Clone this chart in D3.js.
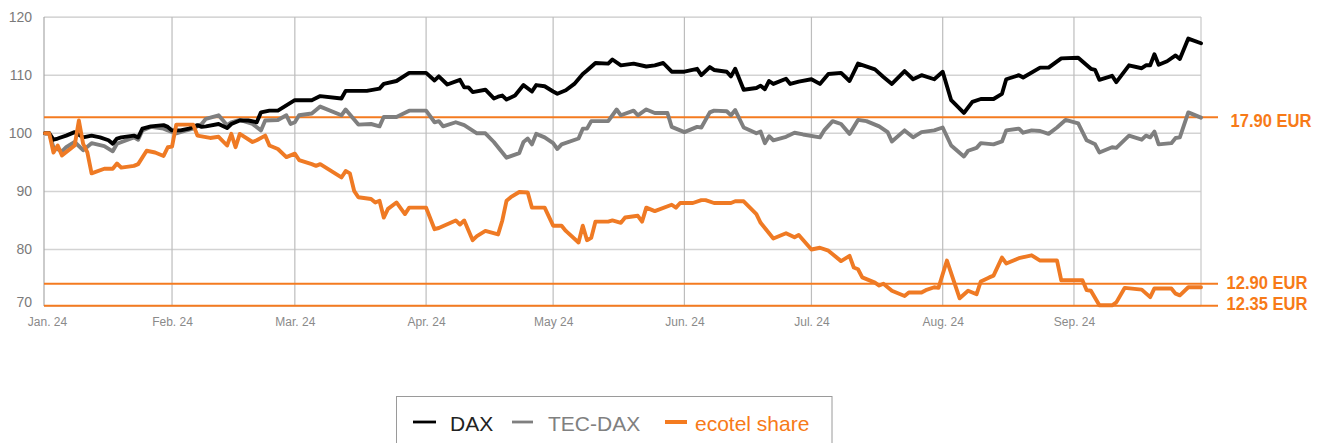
<!DOCTYPE html>
<html>
<head>
<meta charset="utf-8">
<script src="https://cdn.jsdelivr.net/npm/d3@7"></script>
<style>
  html, body { margin: 0; padding: 0; background: #fff; }
  svg { display: block; font-family: "Liberation Sans", Arial, sans-serif; }
</style>
</head>
<body>
<svg id="chart" width="1325" height="443"></svg>
<script>
// ---------------- DATA ----------------
const monthTicks = ["01-02","02-01","03-01","04-01","05-01","06-01","07-01","08-01","09-01"];
const monthLabels = ["Jan. 24","Feb. 24","Mar. 24","Apr. 24","May 24","Jun. 24","Jul. 24","Aug. 24","Sep. 24"];
const yTicks = [70, 80, 90, 100, 110, 120];

const daxData = [
["01-02",100],["01-03",100],["01-04",98.9],["01-05",99.1],["01-07",99.6],["01-09",100.2],["01-11",99.3],["01-13",99.6],
["01-15",99.3],["01-17",98.8],["01-18",98.2],["01-19",99.1],["01-20",99.3],["01-23",99.6],["01-24",99.3],["01-25",100.8],
["01-27",101.2],["01-30",101.4],["01-31",101.1],["02-01",100.5],["02-03",100.5],["02-05",100.8],["02-07",101.4],["02-08",101.1],
["02-09",101.2],["02-12",101.6],["02-14",100.9],["02-15",101.6],["02-17",102.2],["02-19",102.2],["02-21",101.9],["02-22",103.6],
["02-24",103.9],["02-26",103.9],["02-28",104.8],["03-01",105.7],["03-05",105.7],["03-07",106.4],["03-12",106.0],["03-13",107.3],
["03-18",107.3],["03-21",107.7],["03-22",108.5],["03-25",109.0],["03-28",110.4],["04-01",110.4],["04-03",109.1],["04-04",109.8],
["04-06",108.4],["04-09",109.2],["04-10",107.9],["04-11",107.9],["04-12",107.1],["04-15",107.5],["04-17",106.0],["04-18",106.3],
["04-19",106.5],["04-20",105.8],["04-22",106.5],["04-24",108.3],["04-26",107.2],["04-27",108.3],["04-29",108.1],["05-01",107.2],
["05-02",106.8],["05-04",107.4],["05-06",108.5],["05-08",110.2],["05-09",110.8],["05-11",112.1],["05-14",112.0],["05-15",112.7],
["05-17",111.7],["05-20",112.0],["05-23",111.5],["05-25",111.7],["05-27",112.1],["05-29",110.6],["06-01",110.6],["06-04",111.1],
["06-05",110.0],["06-07",111.4],["06-08",110.9],["06-11",110.6],["06-12",109.8],["06-13",111.1],["06-15",107.5],["06-18",107.8],
["06-19",108.2],["06-20",107.6],["06-21",109.0],["06-22",108.5],["06-25",109.4],["06-26",108.5],["06-28",108.9],["07-01",109.3],
["07-03",108.5],["07-05",110.2],["07-08",110.4],["07-10",109.0],["07-12",112.0],["07-16",111.0],["07-18",109.7],["07-20",108.5],
["07-23",110.7],["07-25",109.3],["07-27",110.0],["07-30",109.3],["08-01",110.6],["08-03",105.7],["08-06",103.5],["08-08",105.4],
["08-10",105.9],["08-13",105.9],["08-15",106.8],["08-16",109.3],["08-19",110.0],["08-20",109.6],["08-24",111.3],["08-26",111.3],
["08-29",112.9],["09-02",113.0],["09-05",111.1],["09-06",110.9],["09-07",109.2],["09-10",109.9],["09-11",108.8],["09-14",111.7],
["09-17",111.2],["09-18",111.7],["09-19",111.7],["09-20",113.6],["09-21",111.8],["09-23",112.4],["09-25",113.4],["09-26",112.8],
["09-28",116.3],["10-01",115.5]
];

const tecData = [
["01-02",100],["01-03",100],["01-04",97.6],["01-06",96.9],["01-07",97.6],["01-09",98.5],["01-11",97.1],["01-13",98.3],
["01-16",97.8],["01-18",96.9],["01-19",98.2],["01-23",99.3],["01-24",98.9],["01-25",100.5],["01-27",101.1],["01-30",100.8],
["01-31",100.5],["02-02",100.0],["02-04",100.4],["02-06",100.8],["02-08",101.6],["02-09",102.5],["02-12",103.1],["02-14",101.4],
["02-15",101.9],["02-17",102.3],["02-20",101.6],["02-22",100.5],["02-23",102.2],["02-26",102.3],["02-28",103.1],["02-29",101.6],
["03-01",101.9],["03-02",103.1],["03-05",103.4],["03-07",104.6],["03-12",103.1],["03-13",104.1],["03-16",101.5],["03-19",101.6],
["03-21",101.2],["03-22",102.8],["03-25",102.8],["03-28",103.9],["04-01",103.9],["04-03",101.9],["04-04",102.1],["04-05",101.2],
["04-08",101.9],["04-10",101.4],["04-13",100.0],["04-15",100.0],["04-17",98.5],["04-20",95.8],["04-23",96.6],["04-24",98.5],
["04-25",99.1],["04-26",98.1],["04-27",99.9],["04-29",99.3],["05-01",98.3],["05-02",97.3],["05-03",98.1],["05-07",99.1],
["05-08",100.8],["05-09",100.8],["05-10",102.1],["05-14",102.1],["05-16",104.1],["05-17",103.1],["05-20",103.9],["05-21",103.1],
["05-23",104.1],["05-25",103.5],["05-28",103.5],["05-29",101.1],["06-01",100.2],["06-04",101.1],["06-05",101.0],["06-07",103.6],
["06-08",103.9],["06-11",103.8],["06-12",103.1],["06-13",104.0],["06-15",101.0],["06-18",100.0],["06-19",100.3],["06-20",98.3],
["06-21",99.5],["06-22",98.8],["06-25",99.4],["06-27",100.1],["06-29",99.8],["07-03",99.3],["07-04",100.5],["07-06",102.1],
["07-08",101.6],["07-10",99.9],["07-12",102.3],["07-14",102.1],["07-17",101.2],["07-19",100.2],["07-20",98.6],["07-23",100.5],
["07-25",99.3],["07-27",100.2],["07-30",100.5],["08-01",101.0],["08-03",97.9],["08-06",96.0],["08-07",97.0],["08-09",97.5],
["08-10",98.3],["08-13",98.1],["08-15",98.6],["08-16",100.5],["08-19",100.8],["08-20",100.1],["08-22",100.5],["08-24",100.4],
["08-26",99.9],["08-28",101.0],["08-30",102.3],["09-02",101.7],["09-04",98.8],["09-06",98.1],["09-07",96.7],["09-10",97.6],
["09-11",97.5],["09-14",99.6],["09-17",98.9],["09-18",99.6],["09-19",99.3],["09-20",100.3],["09-21",98.1],["09-24",98.3],
["09-25",99.2],["09-26",99.3],["09-28",103.6],["10-01",102.7]
];

const ecotelData = [
["01-02",100],["01-03",100],["01-04",96.7],["01-05",97.9],["01-06",96.2],["01-09",97.9],["01-10",102.2],["01-11",98.2],
["01-12",96.7],["01-13",93.1],["01-16",93.9],["01-18",93.9],["01-19",94.8],["01-20",94.1],["01-23",94.4],["01-24",94.7],
["01-26",97.0],["01-28",96.7],["01-30",96.1],["01-31",97.6],["02-01",97.7],["02-02",101.5],["02-06",101.5],["02-07",99.6],
["02-10",99.2],["02-12",99.4],["02-14",97.9],["02-15",99.9],["02-16",97.6],["02-17",99.9],["02-20",98.5],["02-21",98.8],
["02-23",99.6],["02-24",97.9],["02-26",97.3],["02-28",95.9],["03-01",96.5],["03-02",95.4],["03-05",94.7],["03-06",94.4],
["03-07",94.7],["03-12",92.4],["03-13",93.5],["03-14",93.1],["03-15",90.1],["03-16",89.0],["03-19",88.7],["03-20",88.1],
["03-21",88.4],["03-22",85.5],["03-23",87.0],["03-25",88.1],["03-27",86.1],["03-28",87.2],["04-01",87.2],["04-03",83.5],
["04-04",83.7],["04-08",85.0],["04-09",84.3],["04-10",85.0],["04-12",81.6],["04-13",82.3],["04-15",83.2],["04-18",82.6],
["04-19",85.0],["04-20",88.4],["04-21",89.0],["04-23",89.9],["04-25",89.8],["04-26",87.2],["04-29",87.2],["05-01",84.1],
["05-03",84.1],["05-04",83.2],["05-07",81.2],["05-08",84.1],["05-09",81.6],["05-10",82.0],["05-11",84.8],["05-14",84.8],
["05-15",85.0],["05-17",84.6],["05-18",85.5],["05-21",85.8],["05-22",84.8],["05-23",87.2],["05-25",86.6],["05-29",87.7],
["05-30",87.2],["05-31",88.0],["06-03",88.0],["06-05",88.5],["06-06",88.5],["06-08",88.0],["06-12",88.0],["06-13",88.3],
["06-15",88.3],["06-18",86.1],["06-19",84.6],["06-20",83.7],["06-22",81.9],["06-25",82.8],["06-27",82.1],["06-28",82.5],
["07-01",80.0],["07-03",80.3],["07-05",79.8],["07-08",78.0],["07-10",78.9],["07-11",76.9],["07-12",76.6],["07-13",75.2],
["07-16",74.3],["07-17",73.8],["07-18",74.1],["07-20",72.9],["07-23",72.0],["07-24",72.6],["07-27",72.6],["07-28",73.0],
["07-30",73.5],["07-31",73.4],["08-02",78.1],["08-05",71.6],["08-07",72.9],["08-09",72.3],["08-10",74.5],["08-12",75.2],
["08-13",75.5],["08-15",78.6],["08-16",77.6],["08-19",78.5],["08-22",79.0],["08-24",78.1],["08-28",78.1],["08-29",74.7],
["09-03",74.7],["09-04",73.0],["09-05",72.9],["09-07",70.4],["09-10",70.4],["09-11",70.9],["09-13",73.4],["09-17",73.1],
["09-19",71.8],["09-20",73.3],["09-24",73.3],["09-25",72.4],["09-26",72.1],["09-28",73.5],["10-01",73.5]
];

// ecotel price levels (indexed to start = 100) and their labels
const refValues = [102.75, 74.1, 70.3];
const refLabels = ["17.90 EUR", "12.90 EUR", "12.35 EUR"];

const seriesNames = ["DAX", "TEC-DAX", "ecotel share"];

(function () {
// ---------------- STYLE ----------------
const C_DAX = "#000000", C_TEC = "#7f7f7f", C_ECO = "#ef7a24", C_REF = "#f47b20", C_LBL = "#f77a18";
const pLeft = 44, pRight = 1201, pTop = 17, pBottom = 306;

const parse = s => d3.timeParse("%Y-%m-%d")("2024-" + s);
const svg = d3.select("#chart");

const x = d3.scaleTime()
  .domain([parse("01-02"), parse("10-01")])
  .range([45, pRight]);
const y = d3.scaleLinear().domain([70, 120]).range([307.6, 17.1]);

// horizontal grid
svg.append("g").selectAll("line")
  .data(yTicks.filter(v => v > 70 && v < 120))
  .join("line")
  .attr("x1", pLeft).attr("x2", pRight)
  .attr("y1", d => y(d)).attr("y2", d => y(d))
  .attr("stroke", "#d3d3d3").attr("stroke-width", 1.5);

// top border
svg.append("line").attr("x1", pLeft).attr("x2", pRight).attr("y1", y(120)).attr("y2", y(120))
  .attr("stroke", "#c8c8c8").attr("stroke-width", 1.2);

// vertical grid (months)
const tickDates = monthTicks.map(parse);
svg.append("g").selectAll("line")
  .data(tickDates.slice(1))
  .join("line")
  .attr("x1", d => x(d)).attr("x2", d => x(d))
  .attr("y1", pTop).attr("y2", pBottom)
  .attr("stroke", "#bdbdbd").attr("stroke-width", 1.2);

// left axis line, right border, bottom line
svg.append("line").attr("x1", pLeft).attr("x2", pLeft).attr("y1", pTop).attr("y2", pBottom)
  .attr("stroke", "#a8a8a8").attr("stroke-width", 1.2);
svg.append("line").attr("x1", pRight).attr("x2", pRight).attr("y1", pTop).attr("y2", pBottom)
  .attr("stroke", "#c8c8c8").attr("stroke-width", 1.2);
svg.append("line").attr("x1", pLeft).attr("x2", pRight).attr("y1", pBottom).attr("y2", pBottom)
  .attr("stroke", "#bdbdbd").attr("stroke-width", 1.2);

// y axis labels
const yAxis = d3.axisLeft(y).tickValues(yTicks).tickSize(0).tickPadding(0);
const gy = svg.append("g").attr("transform", "translate(32,0)").call(yAxis);
gy.select(".domain").remove();
gy.selectAll("text")
  .attr("font-size", 14).attr("fill", "#7a7a7a")
  .attr("font-family", "'Liberation Sans', Arial, sans-serif")
  .attr("dy", d => d === 70 ? "-0.05em" : "0.32em");

// x axis labels
const xAxis = d3.axisBottom(x).tickValues(tickDates).tickSize(0).tickPadding(0)
  .tickFormat((d, i) => monthLabels[i]);
const gx = svg.append("g").attr("transform", `translate(0,${pBottom})`).call(xAxis);
gx.select(".domain").remove();
gx.selectAll("text")
  .attr("font-size", 12).attr("fill", "#8a8a8a")
  .attr("font-family", "'Liberation Sans', Arial, sans-serif")
  .attr("y", 19.5).attr("dy", 0)
  .attr("dx", (d, i) => i === 0 ? 2 : 0);

// reference lines (ecotel price levels)
svg.append("g").selectAll("line")
  .data(refValues)
  .join("line")
  .attr("x1", pLeft).attr("x2", 1218)
  .attr("y1", d => y(d)).attr("y2", d => y(d))
  .attr("stroke", C_REF).attr("stroke-width", 2);

// series lines
const line = d3.line()
  .x(d => x(parse(d[0])))
  .y(d => y(d[1]))
  .curve(d3.curveLinear);

const series = [
  { data: tecData, color: C_TEC },
  { data: daxData, color: C_DAX },
  { data: ecotelData, color: C_ECO }
];
svg.append("g").selectAll("path")
  .data(series)
  .join("path")
  .attr("d", d => line(d.data))
  .attr("fill", "none")
  .attr("stroke", d => d.color)
  .attr("stroke-width", 3.9)
  .attr("stroke-linejoin", "round")
  .attr("stroke-linecap", "round");

// right labels
const labelX = [1230.5, 1226.5, 1226.5];
const labelBase = [127, 288.5, 310];
svg.append("g").selectAll("text")
  .data(refLabels)
  .join("text")
  .attr("x", (d, i) => labelX[i])
  .attr("y", (d, i) => labelBase[i])
  .attr("font-family", "'Liberation Sans Narrow', 'Arial Narrow', 'Liberation Sans', sans-serif")
  .attr("font-weight", "bold")
  .attr("font-size", 19)
  .attr("textLength", 81)
  .attr("lengthAdjust", "spacingAndGlyphs")
  .attr("fill", C_LBL)
  .text(d => d);

// legend
const lg = svg.append("g");
lg.append("rect").attr("x", 396.5).attr("y", 396.5).attr("width", 435.5).attr("height", 70)
  .attr("fill", "#fff").attr("stroke", "#9a9a9a").attr("stroke-width", 1);
const legItems = [
  { name: seriesNames[0], color: C_DAX, text: "#222", x1: 413, x2: 436, tx: 450, w: 2.8 },
  { name: seriesNames[1], color: C_TEC, text: "#808080", x1: 512, x2: 533, tx: 548, w: 2.8 },
  { name: seriesNames[2], color: C_REF, text: C_LBL, x1: 665, x2: 687, tx: 695, w: 4 }
];
legItems.forEach(it => {
  lg.append("line").attr("x1", it.x1).attr("x2", it.x2).attr("y1", 422).attr("y2", 422)
    .attr("stroke", it.color).attr("stroke-width", it.w);
  lg.append("text").attr("x", it.tx).attr("y", 431)
    .attr("font-size", 21).attr("fill", it.text)
    .attr("font-family", "'Liberation Sans', Arial, sans-serif")
    .text(it.name);
});
})();
</script>
</body>
</html>
